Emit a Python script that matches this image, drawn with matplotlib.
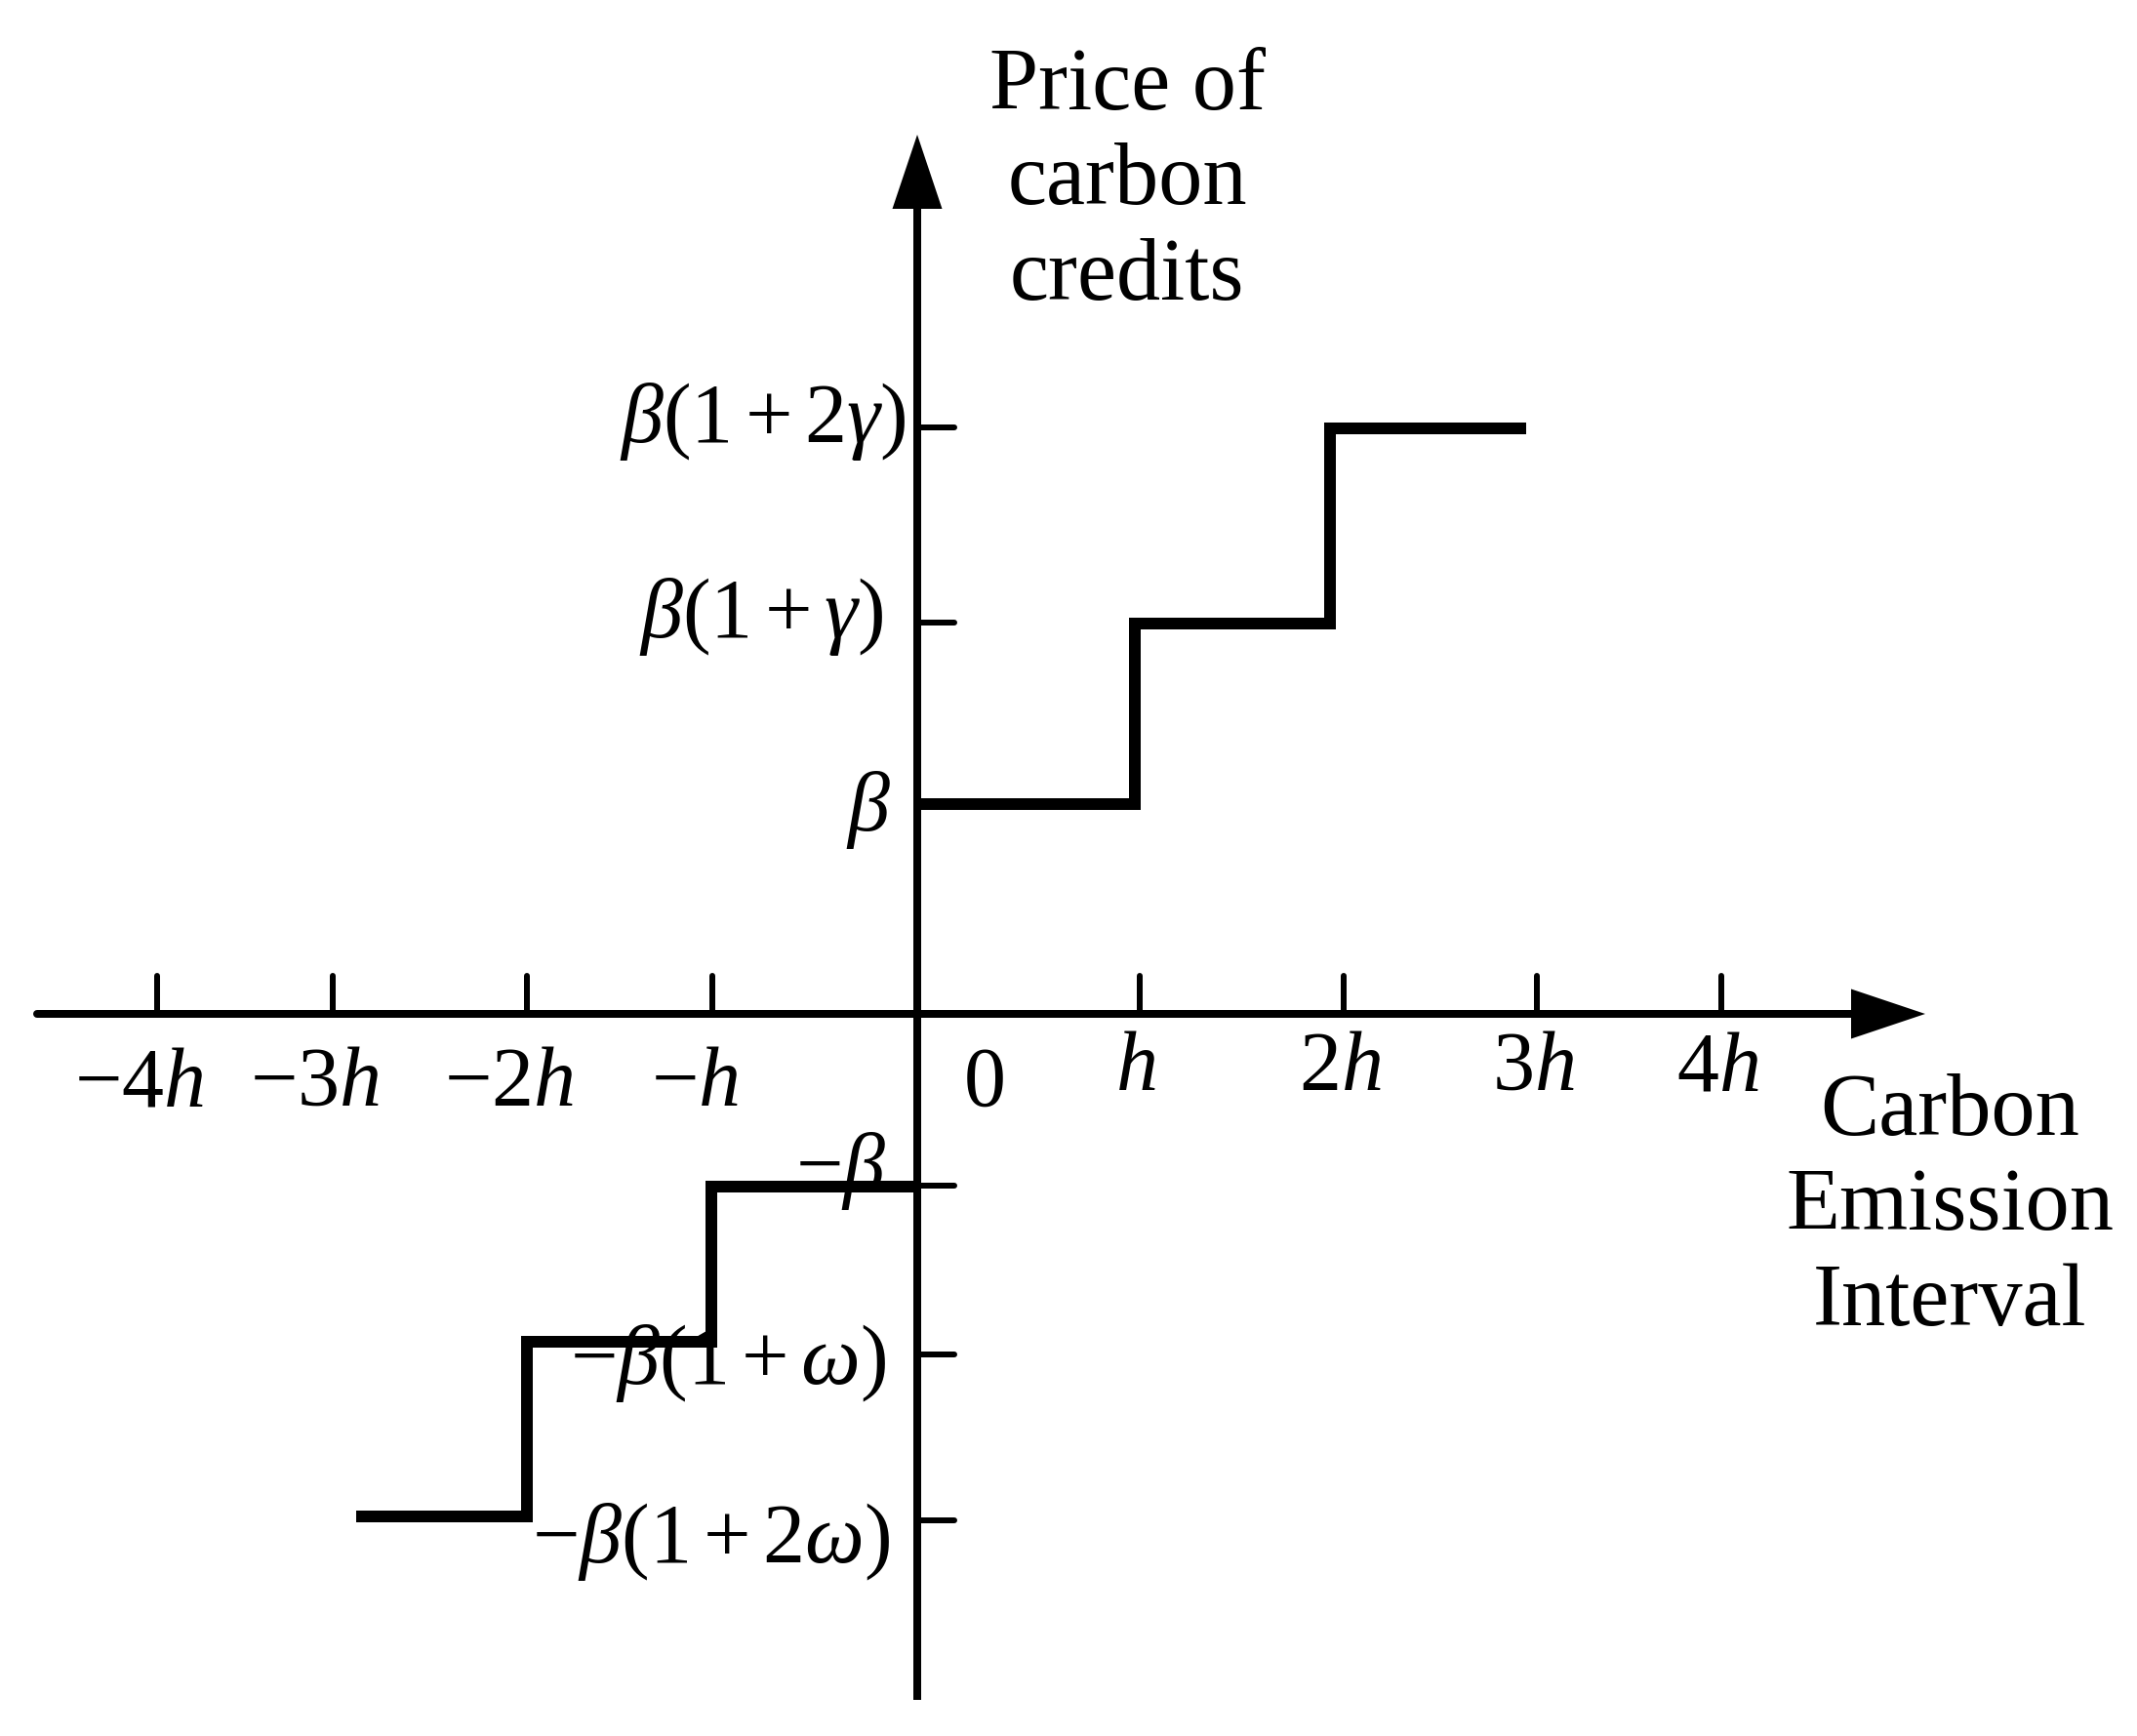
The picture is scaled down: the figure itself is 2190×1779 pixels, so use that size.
import matplotlib
matplotlib.use("Agg")
import matplotlib.pyplot as plt

plt.rcParams['font.family'] = 'Liberation Serif'
plt.rcParams['mathtext.fontset'] = 'custom'
plt.rcParams['mathtext.rm'] = 'Liberation Serif'
plt.rcParams['mathtext.it'] = 'Liberation Serif:italic'

# positions (origin at the axes crossing, 1 unit ~ 1 px)
x_ticks = [-779, -599, -400, -210, 228, 437, 635, 824]
x_labels = [r'$-4h$', r'$-3h$', r'$-2h$', r'$-h$', r'$h$', r'$2h$', r'$3h$', r'$4h$']

y_ticks = [601, 401, 214, -176, -349, -519]
y_labels = [r'$\beta(1+2\gamma)$', r'$\beta(1+\gamma)$', r'$\beta$',
            r'$-\beta$', r'$-\beta(1+\omega)$', r'$-\beta(1+2\omega)$']

# penalty / reward step curves
up_x = [0, 223, 423, 624]
up_y = [215, 400, 600, 600]
low_x = [-575, -400, -211, 0]
low_y = [-515, -336, -177, -177]

fig = plt.figure(figsize=(21.9, 17.79), dpi=100)
ax = fig.add_axes([0, 0, 1, 1])
ax.set_xlim(-940, 1250)
ax.set_ylim(-740, 1039)
ax.axis('off')

px = 72 / 100  # pixels -> points

# axes with arrow heads
x_min, x_tip = -902, 1033
y_min, y_tip = -703, 901
head_len, head_half = 76, 25.5
ax.plot([x_min, x_tip - head_len], [0, 0], color='k', lw=8 * px, solid_capstyle='round')
ax.plot([0, 0], [y_min, y_tip - head_len], color='k', lw=8 * px, solid_capstyle='butt')
ax.fill([x_tip - head_len, x_tip, x_tip - head_len], [-head_half, 0, head_half], color='k', lw=0)
ax.fill([-head_half, 0, head_half], [y_tip - head_len, y_tip, y_tip - head_len], color='k', lw=0)

# ticks
for xt in x_ticks:
    ax.plot([xt, xt], [0, 39], color='k', lw=6 * px, solid_capstyle='round')
for yt in y_ticks:
    ax.plot([0, 38], [yt, yt], color='k', lw=6 * px, solid_capstyle='round')

# tick labels
fs = 62
for xt, lab in zip(x_ticks, x_labels):
    if xt < 0:
        ax.text(xt - 18, -94, lab, fontsize=fs, ha='center', va='baseline')
    else:
        ax.text(xt - 4, -78, lab, fontsize=fs, ha='center', va='baseline')
ax.text(68, -94, r'$0$', fontsize=fs, ha='center', va='baseline')

y_shift = [6, 6, -5, 15, -9, -22]
y_right = [-12, -35, -27, -32, -32, -28]
for yt, lab, dy, xr in zip(y_ticks, y_labels, y_shift, y_right):
    ax.text(xr, yt + dy, lab, fontsize=fs, ha='right', va='center')

# step lines
ax.step(up_x, up_y, where='post', color='k', lw=12 * px,
        solid_joinstyle='miter', solid_capstyle='butt')
ax.step(low_x, low_y, where='post', color='k', lw=12 * px,
        solid_joinstyle='miter', solid_capstyle='butt')

# axis titles (baseline of the last line)
ax.text(215, 732, 'Price of\ncarbon\ncredits', fontsize=65, ha='center',
        va='baseline', linespacing=1.24)
ax.text(1058, -319, 'Carbon\nEmission\nInterval', fontsize=65, ha='center',
        va='baseline', linespacing=1.24)

fig.savefig('out.png', dpi=100)
